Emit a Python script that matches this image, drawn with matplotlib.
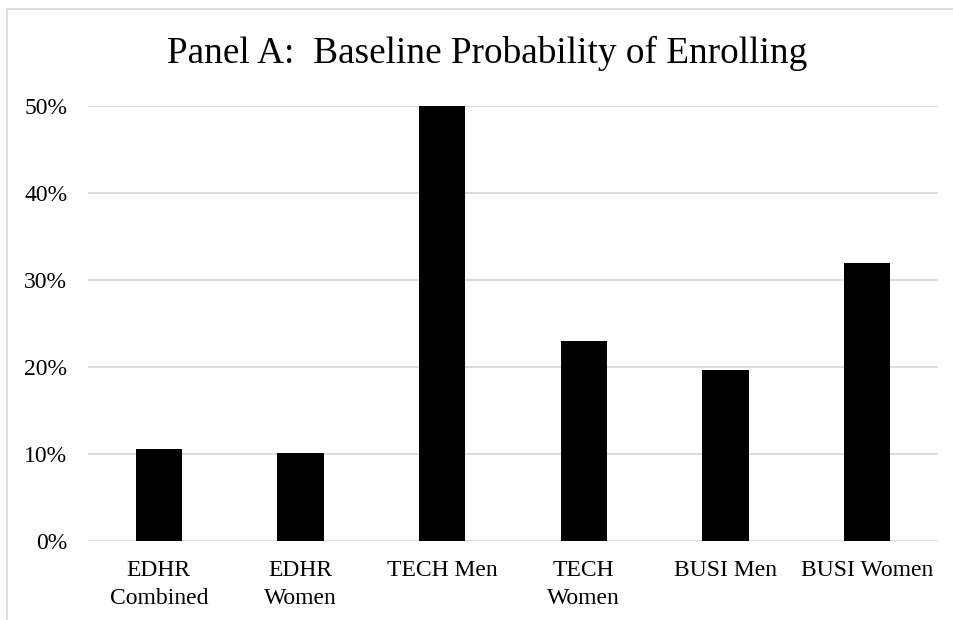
import matplotlib.pyplot as plt
from matplotlib.patches import Rectangle
from matplotlib.ticker import PercentFormatter

# --- datos ---
categorias = ['EDHR\nCombined', 'EDHR\nWomen', 'TECH Men', 'TECH\nWomen', 'BUSI Men', 'BUSI Women']
valores = [0.106, 0.101, 0.500, 0.230, 0.196, 0.320]
ticks_y = [0.0, 0.1, 0.2, 0.3, 0.4, 0.5]

plt.rcParams['font.family'] = ['Liberation Serif', 'DejaVu Serif']

fig = plt.figure(figsize=(9.54, 6.2), dpi=100)
W, H = 954, 620

# marco gris del gráfico (tipo Excel)
fig.patches.append(Rectangle((7 / W, -0.1), 1.2, (H - 9) / H + 0.1,
                             transform=fig.transFigure, fill=False,
                             edgecolor='#d9d9d9', linewidth=1.2))

ax = fig.add_axes([88 / W, (H - 541) / H, (938 - 88) / W, (541 - 106) / H])

x = range(len(categorias))
ax.bar(x, valores, width=0.325, color='black', zorder=3)

ax.set_xlim(-0.5, len(categorias) - 0.5)
ax.set_ylim(0, 0.5)
ax.set_yticks(ticks_y)
ax.yaxis.set_major_formatter(PercentFormatter(1.0, decimals=0))
ax.set_xticks(list(x))
ax.set_xticklabels(categorias, fontsize=17, linespacing=1.38)

ax.grid(axis='y', color='#d9d9d9', linewidth=1.3, zorder=0)
for s in ax.spines.values():
    s.set_visible(False)
ax.tick_params(axis='both', length=0, labelsize=17)
ax.tick_params(axis='y', pad=15)
ax.tick_params(axis='x', pad=14)

fig.text(487 / W, (H - 63) / H, 'Panel A:  Baseline Probability of Enrolling',
         ha='center', va='baseline', fontsize=26.8)

plt.savefig('out.png', dpi=100)
